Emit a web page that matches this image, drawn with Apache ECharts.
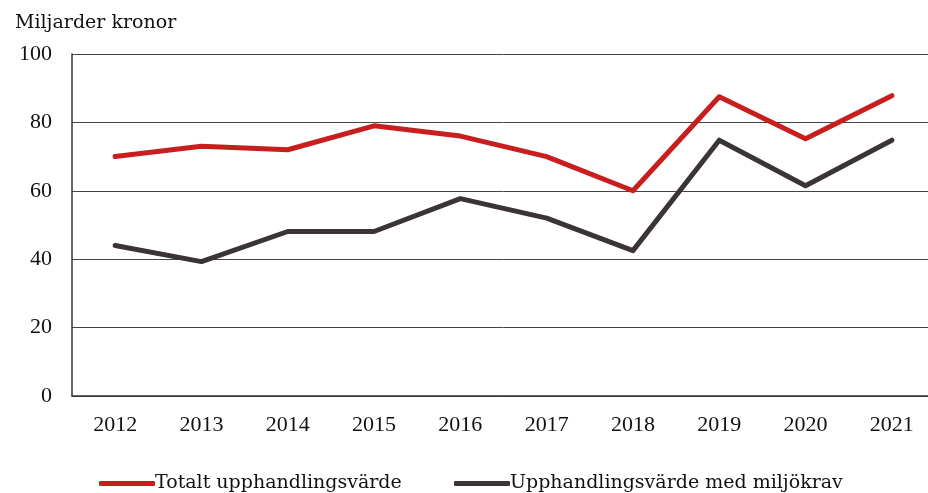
<!DOCTYPE html>
<html>
<head>
<meta charset="utf-8">
<script src="https://cdn.jsdelivr.net/npm/echarts@6/dist/echarts.min.js"></script>
<style>
  html, body { margin: 0; padding: 0; background: #fff; overflow: hidden; }
  #chart { width: 935px; height: 493px; }
</style>
</head>
<body>
<div id="chart"></div>
<script>
  var years = ['2012', '2013', '2014', '2015', '2016', '2017', '2018', '2019', '2020', '2021']
  var totalt = [70, 73, 72, 79, 76, 70, 60, 87.5, 75.2, 87.8]
  var miljokrav = [44, 39.3, 48.1, 48.1, 57.7, 52, 42.5, 74.8, 61.5, 74.8]
  var seriesNames = ['Totalt upphandlingsvärde', 'Upphandlingsvärde med miljökrav']

  var font = '"Liberation Serif", "DejaVu Serif", serif'
  var textFont = '"DejaVu Serif", "Liberation Serif", serif'
  var red = '#c81e1e'
  var dark = '#3a3436'

  var chart = echarts.init(document.getElementById('chart'))

  // both legend entries share this look
  var legendBase = {
    top: 469,
    icon: 'roundRect',
    itemWidth: 56,
    itemHeight: 5,
    itemGap: 0,
    textStyle: { fontFamily: textFont, fontSize: 19, color: '#111', padding: [0, 0, 0, -5] }
  }

  var option = {
    backgroundColor: '#fff',
    animation: false,
    textStyle: { fontFamily: font },
    title: {
      text: 'Miljarder kronor',
      left: 10,
      top: 9,
      textStyle: { fontFamily: textFont, fontSize: 19, fontWeight: 'normal', color: '#111' }
    },
    legend: [
      Object.assign({ data: [seriesNames[0]], left: 94 }, legendBase),
      Object.assign({ data: [seriesNames[1]], left: 449 }, legendBase)
    ],
    grid: {
      left: 72,
      top: 54,
      right: 0,
      bottom: 97
    },
    xAxis: {
      type: 'category',
      data: years,
      boundaryGap: true,
      axisLine: { lineStyle: { color: '#333', width: 1.5 } },
      axisTick: { show: false },
      axisLabel: { fontFamily: font, fontSize: 22, color: '#111', margin: 18 }
    },
    yAxis: {
      type: 'value',
      min: 0,
      max: 100,
      interval: 20,
      axisLine: { show: true, lineStyle: { color: '#333', width: 1.5 } },
      axisTick: { show: false },
      axisLabel: { fontFamily: font, fontSize: 22, color: '#111', margin: 20 },
      splitLine: { lineStyle: { color: '#444', width: 1 } }
    },
    series: [
      {
        name: seriesNames[0],
        type: 'line',
        data: totalt,
        symbol: 'none',
        color: red,
        lineStyle: { color: red, width: 5, cap: 'round', join: 'round' }
      },
      {
        name: seriesNames[1],
        type: 'line',
        data: miljokrav,
        symbol: 'none',
        color: dark,
        lineStyle: { color: dark, width: 5, cap: 'round', join: 'round' }
      }
    ]
  }

  chart.setOption(option)
</script>
</body>
</html>
